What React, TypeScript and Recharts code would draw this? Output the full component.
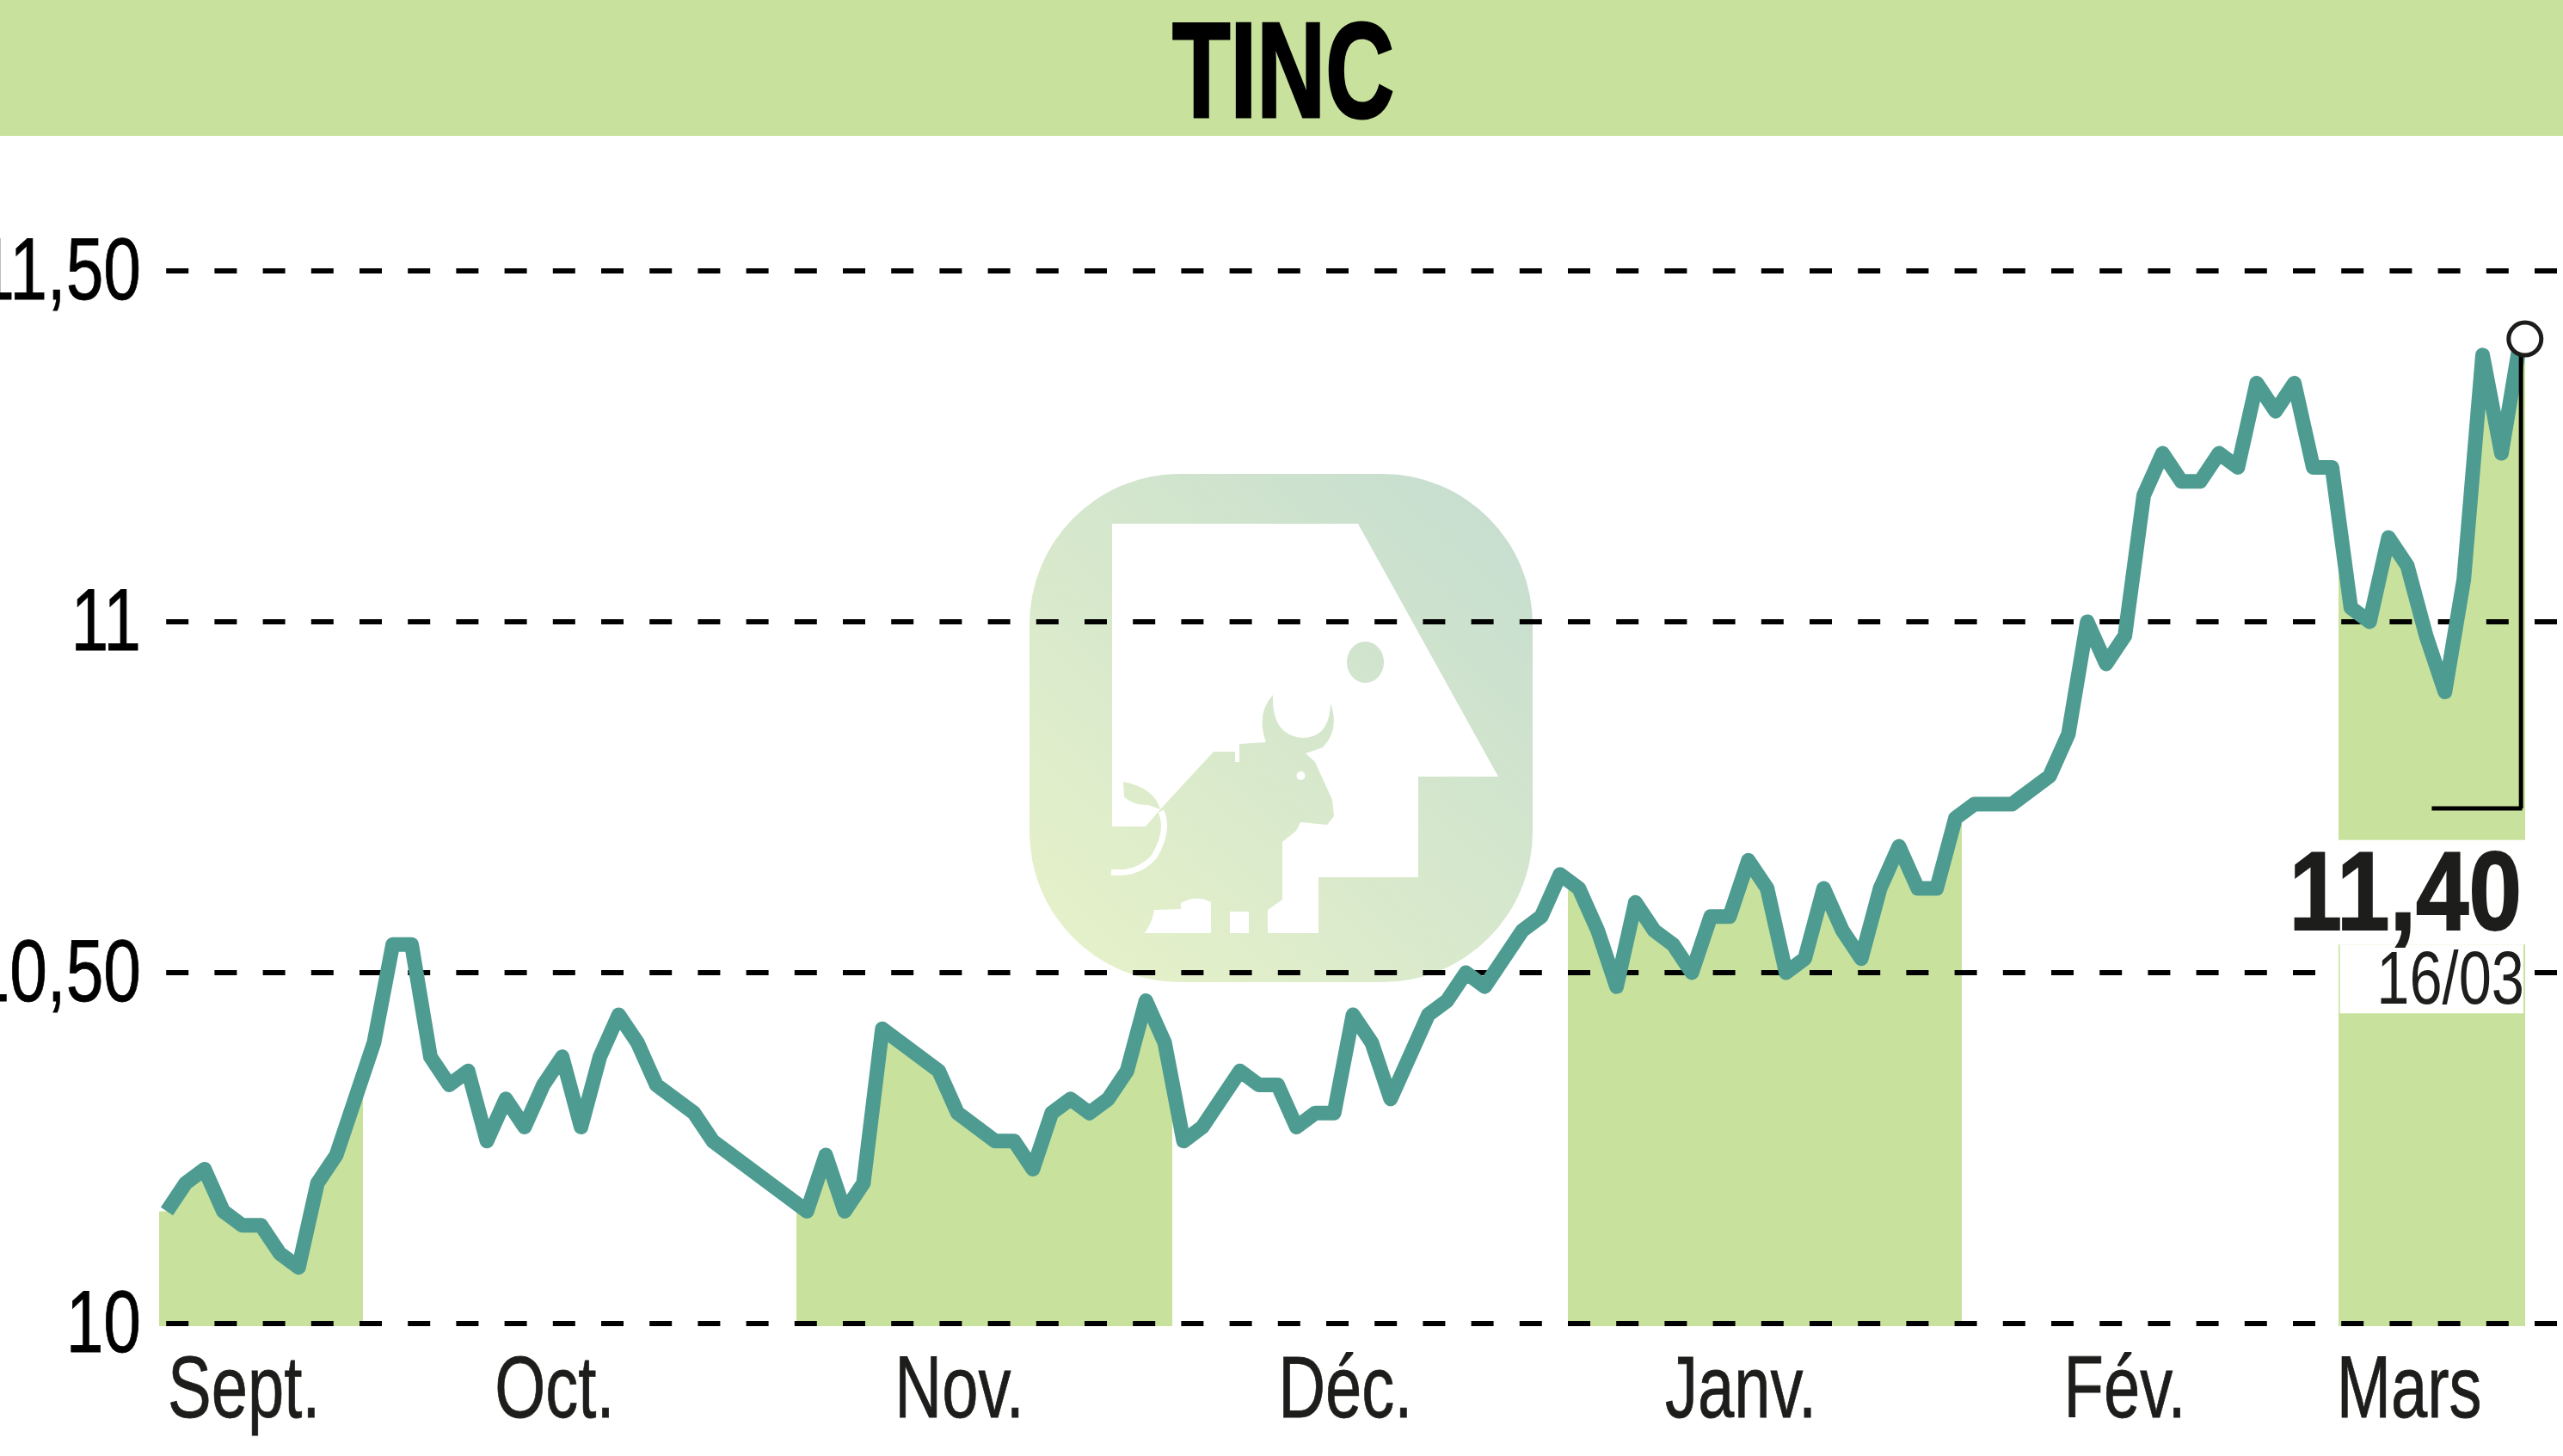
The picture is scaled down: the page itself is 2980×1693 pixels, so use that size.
import {
  Area,
  CartesianGrid,
  ComposedChart,
  Line,
  ReferenceArea,
  ReferenceDot,
  ReferenceLine,
  XAxis,
  YAxis,
} from "recharts";

const GREEN = "#c8e29d";
const TEAL = "#4e9c91";
const INK = "#1d1d1b";
const FONT = '"Liberation Sans Narrow", "Liberation Sans", sans-serif';

// x is a trading-day index, gaps in it are sessions the source does not plot
const slots = [
  0, 1, 2, 3, 4, 5, 6, 7, 8, 9,
  11, 12, 13, 14, 15, 16, 17, 18, 19, 20, 21, 22, 23, 24, 25, 26, 28, 29,
  34, 35, 36, 37, 38, 41, 42, 44, 45, 46, 47, 48, 49, 50, 51, 52, 53,
  54, 55, 57, 58, 59, 60, 61, 62, 63, 64, 65, 67, 68, 69, 70, 72, 73, 74,
  75, 76, 77, 78, 79, 80, 81, 82, 83, 84, 85, 86, 87, 88, 89, 90, 91, 92, 93, 94, 95,
  96, 98, 100, 101, 102, 103, 104, 105, 106, 107, 108, 109, 110, 111, 112, 113, 114, 115,
  116, 117, 118, 119, 120, 121, 122, 123, 124, 125,
];

const prices = [
  10.16, 10.2, 10.22, 10.16, 10.14, 10.14, 10.1, 10.08, 10.2, 10.24,
  10.4, 10.54, 10.54, 10.38, 10.34, 10.36, 10.26, 10.32, 10.28, 10.34, 10.38, 10.28, 10.38, 10.44, 10.4, 10.34, 10.3, 10.26,
  10.16, 10.24, 10.16, 10.2, 10.42, 10.36, 10.3, 10.26, 10.26, 10.22, 10.3, 10.32, 10.3, 10.32, 10.36, 10.46, 10.4,
  10.26, 10.28, 10.36, 10.34, 10.34, 10.28, 10.3, 10.3, 10.44, 10.4, 10.32, 10.44, 10.46, 10.5, 10.48, 10.56, 10.58, 10.64,
  10.62, 10.56, 10.48, 10.6, 10.56, 10.54, 10.5, 10.58, 10.58, 10.66, 10.62, 10.5, 10.52, 10.62, 10.56, 10.52, 10.62, 10.68, 10.62, 10.62, 10.72,
  10.74, 10.74, 10.78, 10.84, 11, 10.94, 10.98, 11.18, 11.24, 11.2, 11.2, 11.24, 11.22, 11.34, 11.3, 11.34, 11.22, 11.22,
  11.02, 11, 11.12, 11.08, 10.98, 10.9, 11.06, 11.38, 11.24, 11.4,
];

const monthLabels = ["Sept.", "Oct.", "Nov.", "Déc.", "Janv.", "Fév.", "Mars"];
const monthTicks = [4.1, 20.6, 42.1, 62.6, 83.6, 104, 119.1];
const priceTicks = [10, 10.5, 11, 11.5];
const priceLabels = ["10", "10,50", "11", "11,50"];

// shaded months, as [from, to] on the x index
const shadedMonths = [
  [-0.41, 10.42],
  [33.42, 53.42],
  [74.42, 95.35],
  [115.36, 125.26],
];

const fillStart = -0.41;
const fillEnd = 125.26;

const chartData = [
  { slot: fillStart, fill: prices[0], price: null },
  ...slots.map((slot, i) => ({ slot, fill: prices[i], price: prices[i] })),
  { slot: fillEnd, fill: prices[prices.length - 1], price: null },
];

const toFraction = (slot: number) => (slot - fillStart) / (fillEnd - fillStart);

function YTick({ x, y, payload }: any) {
  return (
    <text
      transform={`translate(${x} ${y}) scale(0.77 1)`}
      textAnchor="end"
      dy={33}
      fontFamily={FONT}
      fontSize={102}
      fill="#000"
      stroke="#000"
      strokeWidth={0.8}
    >
      {priceLabels[priceTicks.indexOf(payload.value)]}
    </text>
  );
}

function XTick({ x, y, payload }: any) {
  return (
    <text
      transform={`translate(${x} ${y}) scale(0.745 1)`}
      textAnchor="middle"
      dy={106}
      fontFamily={FONT}
      fontSize={102}
      fill={INK}
      stroke={INK}
      strokeWidth={0.8}
    >
      {monthLabels[monthTicks.indexOf(payload.value)]}
    </text>
  );
}

function Logo() {
  return (
    <svg width={2980} height={1693} style={{ position: "absolute", left: 0, top: 0 }}>
      <defs>
        <linearGradient id="logoFill" gradientUnits="userSpaceOnUse" x1={1250} y1={1120} x2={1790} y2={530}>
          <stop offset="0" stopColor="#e5f1c9" />
          <stop offset="1" stopColor="#c4dcd0" />
        </linearGradient>
      </defs>
      <rect x={1197} y={551} width={585} height={591} rx={175} fill="url(#logoFill)" />
      <path
        fill="#fff"
        d="M1293 609 L1579 609 L1742 903 L1649 903 L1649 1020 L1533 1020 L1533 1085 L1474 1085 L1474 1058 L1491 1046 L1491 979 L1507 966 L1512 956 L1543 959 L1551 949 L1549 930 L1529 886 L1518 876 L1538 869 Q1558 848 1547 818 Q1546 858 1514 858 Q1478 855 1480 808 Q1460 830 1472 863 L1441 865 L1441 886 L1436 886 L1436 874 L1411 874 L1351 939 L1332 961 L1293 961 Z"
      />
      <path fill="#fff" d="M1331 1085 Q1340 1072 1342 1058 L1373 1057 L1373 1050 Q1391 1040 1408 1049 L1408 1085 Z" />
      <rect x={1430} y={1060} width={22} height={25} fill="#fff" />
      <ellipse cx={1587.5} cy={770} rx={21.5} ry={24} fill="url(#logoFill)" />
      <circle cx={1512.5} cy={902} r={5} fill="#fff" />
      <path fill="url(#logoFill)" d="M1306 909 L1307 927 Q1320 937 1335 936 L1349 941 Q1342 916 1306 909 Z" />
      <path
        fill="none"
        stroke="#fff"
        strokeWidth={7}
        d="M1350 943 Q1360 966 1342 996 Q1322 1018 1292 1014"
      />
    </svg>
  );
}

export default function App() {
  return (
    <div style={{ position: "absolute", left: 0, top: 0, width: 2980, height: 1693, background: "#fff", overflow: "hidden" }}>
      <Logo />
      <div style={{ position: "absolute", left: 0, top: 0 }}>
        <ComposedChart
          width={2980}
          height={1693}
          data={chartData}
          margin={{ top: 158, right: 0, bottom: 0, left: 0 }}
        >
          <defs>
            <linearGradient id="monthBands" x1="0" y1="0" x2="1" y2="0">
              {shadedMonths.flatMap(([from, to], i) => [
                <stop key={`${i}a`} offset={toFraction(from)} stopColor={GREEN} stopOpacity={0} />,
                <stop key={`${i}b`} offset={toFraction(from)} stopColor={GREEN} stopOpacity={1} />,
                <stop key={`${i}c`} offset={toFraction(to)} stopColor={GREEN} stopOpacity={1} />,
                <stop key={`${i}d`} offset={toFraction(to)} stopColor={GREEN} stopOpacity={0} />,
              ])}
            </linearGradient>
          </defs>
          <XAxis
            dataKey="slot"
            type="number"
            domain={[-0.41, 127.27]}
            ticks={monthTicks}
            interval={0}
            height={151}
            tickSize={0}
            tickMargin={0}
            axisLine={false}
            tickLine={false}
            tick={<XTick />}
          />
          <YAxis
            type="number"
            domain={[9.9963, 11.6923]}
            ticks={priceTicks}
            width={185}
            tickSize={0}
            tickMargin={21}
            axisLine={false}
            tickLine={false}
            tick={<YTick />}
          />
          <Area
            dataKey="fill"
            type="linear"
            stroke="none"
            fill="url(#monthBands)"
            fillOpacity={1}
            connectNulls
            dot={false}
            activeDot={false}
            isAnimationActive={false}
            zIndex={50}
          />
          <CartesianGrid
            vertical={false}
            stroke="#000"
            strokeWidth={6}
            strokeDasharray="26 30.2"
            strokeDashoffset={48}
            horizontalValues={priceTicks}
            zIndex={60}
          />
          <ReferenceArea x1={115.35} x2={125.26} y1={10.54} y2={10.689} fill="#fff" fillOpacity={1} stroke="none" zIndex={65} />
          <ReferenceArea x1={115.42} x2={125.17} y1={10.442} y2={10.54} fill="#fff" fillOpacity={1} stroke="none" zIndex={65} />
          <Line
            dataKey="price"
            type="linear"
            stroke={TEAL}
            strokeWidth={17}
            strokeLinejoin="round"
            connectNulls
            dot={false}
            activeDot={false}
            isAnimationActive={false}
            zIndex={70}
          />
          <ReferenceLine segment={[{ x: 125.04, y: 11.4 }, { x: 125.04, y: 10.734 }]} stroke="#000" strokeWidth={5} zIndex={1000} />
          <ReferenceLine segment={[{ x: 125.1, y: 10.734 }, { x: 120.3, y: 10.734 }]} stroke="#000" strokeWidth={5} zIndex={1000} />
          <ReferenceDot x={125.25} y={11.403} r={19} fill="#fff" stroke={INK} strokeWidth={5} zIndex={1001} />
        </ComposedChart>
      </div>
      <svg width={2980} height={1693} style={{ position: "absolute", left: 0, top: 0, pointerEvents: "none" }}>
        <rect x={0} y={0} width={2980} height={158} fill={GREEN} />
        <text
          transform="translate(1492 136) scale(0.7 1)"
          textAnchor="middle"
          fontFamily={FONT}
          fontWeight={700}
          fontSize={158}
          fill="#000"
          stroke="#000"
          strokeWidth={3}
        >
          TINC
        </text>
        <text
          transform="translate(2932 1081) scale(0.85 1)"
          textAnchor="end"
          fontFamily={FONT}
          fontWeight={700}
          fontSize={130}
          fill={INK}
          stroke={INK}
          strokeWidth={2}
        >
          11,40
        </text>
        <text
          transform="translate(2935 1167) scale(0.78 1)"
          textAnchor="end"
          fontFamily={FONT}
          fontSize={88}
          fill={INK}
        >
          16/03
        </text>
      </svg>
    </div>
  );
}
